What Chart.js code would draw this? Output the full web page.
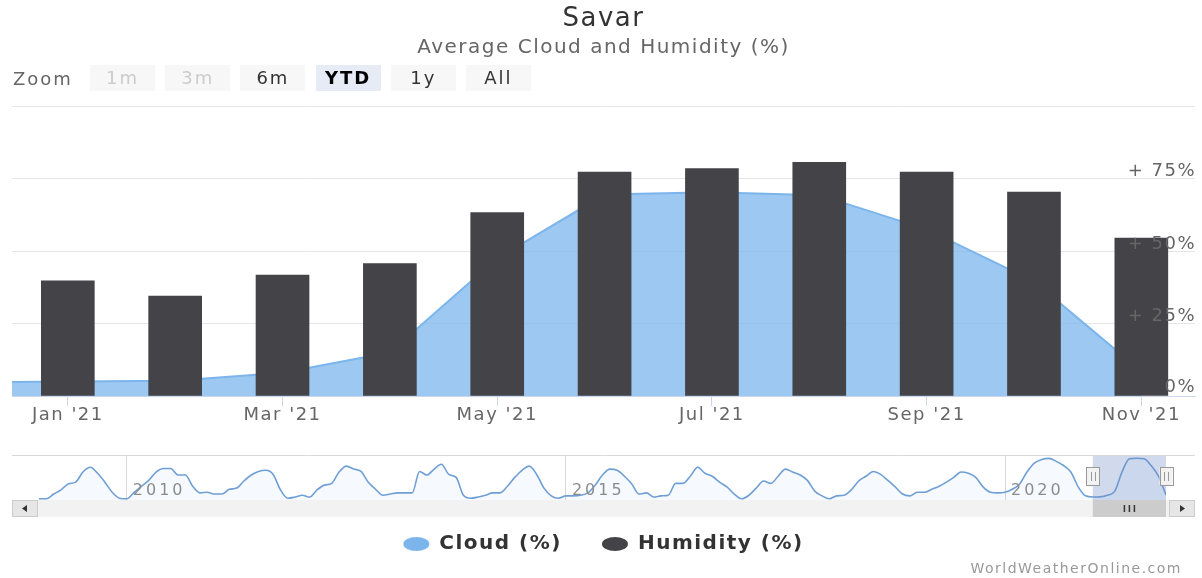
<!DOCTYPE html>
<html>
<head>
<meta charset="utf-8">
<title>Savar - Average Cloud and Humidity (%)</title>
<script src="https://cdn.jsdelivr.net/npm/chart.js@4.4.0/dist/chart.umd.min.js"></script>
<style>
  html, body { margin: 0; padding: 0; background: #fff; overflow: hidden; }
  body { width: 1202px; height: 578px; position: relative; font-family: "DejaVu Sans", sans-serif; }
  #main-chart { position: absolute; left: 0; top: 0; }
  #nav-chart { position: absolute; left: 0; top: 440px; }
  #zoom-bar { position: absolute; left: 13px; top: 65px; height: 26px; display: flex; align-items: center; font-size: 18px; letter-spacing: 2px; }
  #zoom-bar .label { color: #666; width: 77px; }
  #zoom-bar .btn { width: 65px; height: 26px; margin-right: 10.2px; background: #f7f7f7; color: #333; text-align: center; line-height: 26px; }
  #zoom-bar .btn.disabled { color: #ccc; }
  #zoom-bar .btn.active { background: #e6ebf5; color: #000; font-weight: bold; }
</style>
</head>
<body>
<canvas id="main-chart" width="1202" height="578"></canvas>
<canvas id="nav-chart" width="1202" height="90"></canvas>
<div id="zoom-bar">
  <span class="label">Zoom</span>
  <span class="btn disabled">1m</span>
  <span class="btn disabled">3m</span>
  <span class="btn">6m</span>
  <span class="btn active">YTD</span>
  <span class="btn">1y</span>
  <span class="btn">All</span>
</div>
<script>
// Monatswerte 2021 (x = 0 ist Jan '21)
const humidity = [39.7, 34.5, 41.7, 45.7, 63.3, 77.3, 78.5, 80.6, 77.3, 70.4, 54.5];
const cloud = [5.0, 5.3, 8.0, 15.0, 47.5, 69.5, 70.3, 69.3, 57.5, 39.6, 8.5];
const cloudDec2020 = 4.6; // Vormonat, nur am linken Rand sichtbar

const xTickIndex = [0, 2, 4, 6, 8, 10];
const xTickLabels = ["Jan '21", "Mar '21", "May '21", "Jul '21", "Sep '21", "Nov '21"];
const yTicks = [0, 25, 50, 75];

// Navigator: Wolken (%) monatlich, Jan 2009 .. Dez 2020, danach 2021
const navCloudHistory = [
  2, 2, 10, 17, 27, 30, 47, 55, 45, 30, 13, 3,      // 2009
  2, 13, 23, 33, 47, 53, 53, 42, 42, 23, 12, 13,    // 2010
  10, 10, 18, 20, 32, 42, 48, 50, 43, 17, 3, 5,     // 2011
  8, 5, 17, 25, 28, 47, 57, 52, 48, 30, 18, 8,      // 2012
  10, 12, 12, 12, 48, 42, 52, 60, 43, 38, 8, 3,     // 2013
  5, 8, 12, 12, 23, 38, 50, 57, 43, 20, 7, 3,       // 2014
  7, 7, 8, 12, 25, 42, 52, 50, 40, 27, 10, 12,      // 2015
  5, 7, 8, 28, 28, 40, 55, 45, 40, 30, 22, 10,      // 2016
  2, 8, 20, 32, 28, 40, 52, 47, 42, 33, 15, 7,      // 2017
  2, 7, 8, 17, 32, 40, 48, 43, 33, 22, 10, 7,       // 2018
  13, 13, 18, 23, 30, 38, 47, 45, 38, 22, 13, 12,   // 2019
  13, 18, 27, 47, 62, 68, 70, 65, 58, 47, 22, 7     // 2020
];
const navYearTicks = [12, 72, 132];
const navYearLabels = ['2010', '2015', '2020'];
const navRange = [144, 154]; // YTD: Jan .. Nov 2021

const fontFamily = '"DejaVu Sans", sans-serif';
const seriesColors = ['#7cb5ec', '#434348'];

function spacing(px) {
  return {
    id: 'letterSpacing',
    beforeUpdate(chart) { chart.ctx.letterSpacing = px + 'px'; },
    beforeDraw(chart) { chart.ctx.letterSpacing = px + 'px'; }
  };
}

// y-Beschriftung innen rechts, über den Säulen
const yLabels = {
  id: 'yLabels',
  afterDatasetsDraw(chart) {
    const { ctx, chartArea, scales: { y } } = chart;
    ctx.save();
    ctx.font = '18px ' + fontFamily;
    ctx.fillStyle = '#666';
    ctx.textAlign = 'right';
    ctx.textBaseline = 'middle';
    yTicks.forEach(v => {
      const label = v === 0 ? '0%' : '+ ' + v + '%';
      ctx.fillText(label, chartArea.right + 1, y.getPixelForValue(v) - (v === 0 ? 9 : 7));
    });
    ctx.restore();
  }
};

const credits = {
  id: 'credits',
  afterDraw(chart) {
    const ctx = chart.ctx;
    ctx.save();
    ctx.font = '14px ' + fontFamily;
    ctx.fillStyle = '#999';
    ctx.textAlign = 'right';
    ctx.textBaseline = 'middle';
    ctx.fillText('WorldWeatherOnline.com', 1182, 569);
    ctx.restore();
  }
};

const cloudPoints = [{ x: -1, y: cloudDec2020 }].concat(cloud.map((v, i) => ({ x: i, y: v })));
const humidityPoints = humidity.map((v, i) => ({ x: i, y: v }));

new Chart(document.getElementById('main-chart'), {
  type: 'bar',
  data: {
    datasets: [
      {
        type: 'line',
        label: 'Cloud (%)',
        data: cloudPoints,
        borderColor: seriesColors[0],
        backgroundColor: 'rgba(124, 181, 236, 0.75)',
        borderWidth: 2,
        fill: 'origin',
        pointRadius: 0,
        tension: 0,
        order: 2
      },
      {
        type: 'bar',
        label: 'Humidity (%)',
        data: humidityPoints,
        backgroundColor: seriesColors[1],
        barThickness: 53,
        order: 1
      }
    ]
  },
  options: {
    responsive: false,
    animation: false,
    devicePixelRatio: 1,
    events: [],
    layout: { padding: { left: 12, right: 7, top: 0, bottom: 14 } },
    scales: {
      x: {
        type: 'linear',
        min: -0.52,
        max: 10.5,
        offset: false,
        afterBuildTicks: (scale) => { scale.ticks = xTickIndex.map(v => ({ value: v })); },
        afterFit: (scale) => { scale.height = 98; },
        ticks: {
          callback: (value, index) => xTickLabels[index],
          color: '#666',
          font: { family: fontFamily, size: 18 },
          padding: -1,
          maxRotation: 0,
          autoSkip: false
        },
        grid: { offset: false, drawOnChartArea: false, drawTicks: true, tickLength: 10, color: '#ccd6eb' },
        border: { color: '#ccd6eb' }
      },
      y: {
        position: 'right',
        min: 0,
        max: 100,
        ticks: { display: false, stepSize: 25 },
        grid: { color: '#e6e6e6', drawTicks: false },
        border: { display: false }
      }
    },
    plugins: {
      title: {
        display: true,
        text: 'Savar',
        color: '#333',
        font: { family: fontFamily, size: 26, weight: 'normal' },
        padding: { top: 4, bottom: 0 }
      },
      subtitle: {
        display: true,
        text: 'Average Cloud and Humidity (%)',
        color: '#666',
        font: { family: fontFamily, size: 20 },
        padding: { top: 1, bottom: 46 }
      },
      legend: {
        position: 'bottom',
        labels: {
          usePointStyle: true,
          pointStyle: 'circle',
          boxHeight: 10,
          pointStyleWidth: 26,
          padding: 40,
          color: '#333',
          font: { family: fontFamily, size: 20, weight: 'bold' },
          generateLabels: (chart) => chart.data.datasets.map((ds, i) => ({
            text: ds.label,
            fillStyle: seriesColors[i],
            strokeStyle: seriesColors[i],
            lineWidth: 0,
            pointStyle: 'circle',
            hidden: false,
            datasetIndex: i,
            fontColor: '#333'
          }))
        }
      },
      tooltip: { enabled: false }
    }
  },
  plugins: [spacing(1.5), yLabels, credits]
});

// Navigator mit Auswahlbereich und Scrollbar
const navDecor = {
  id: 'navDecor',
  afterDraw(chart) {
    const { ctx, chartArea: a, scales: { x } } = chart;
    ctx.save();

    // obere Linie
    ctx.strokeStyle = '#d8d8d8';
    ctx.lineWidth = 1;
    ctx.beginPath();
    ctx.moveTo(12, a.top - 0.5);
    ctx.lineTo(1195, a.top - 0.5);
    ctx.stroke();

    // Jahreszahlen
    ctx.font = '16px ' + fontFamily;
    ctx.fillStyle = '#8c8c8c';
    ctx.textAlign = 'left';
    ctx.textBaseline = 'middle';
    navYearTicks.forEach((t, i) => {
      ctx.fillText(navYearLabels[i], x.getPixelForValue(t) + 6, a.bottom - 9);
    });

    // Maske
    const x1 = x.getPixelForValue(navRange[0]);
    const x2 = x.getPixelForValue(navRange[1]);
    ctx.fillStyle = 'rgba(102, 133, 194, 0.3)';
    ctx.fillRect(x1, a.top, x2 - x1, a.bottom - a.top);

    // Scrollbar
    const sy = a.bottom, sh = 17;
    ctx.fillStyle = '#f2f2f2';
    ctx.fillRect(12, sy, 1183, sh);
    ctx.fillStyle = '#cccccc';
    ctx.fillRect(x1, sy, x2 - x1, sh);
    ctx.strokeStyle = '#333';
    ctx.lineWidth = 1.5;
    const gx = (x1 + x2) / 2;
    [-5, 0, 5].forEach(d => {
      ctx.beginPath();
      ctx.moveTo(gx + d, sy + 5);
      ctx.lineTo(gx + d, sy + 12);
      ctx.stroke();
    });

    // Pfeil-Buttons
    [[12, -1], [1169, 1]].forEach(([bx, dir]) => {
      ctx.fillStyle = '#e6e6e6';
      ctx.strokeStyle = '#cccccc';
      ctx.lineWidth = 1;
      ctx.fillRect(bx, sy, 26, sh);
      ctx.strokeRect(bx + 0.5, sy + 0.5, 25, sh - 1);
      const cx = bx + 13, cy = sy + sh / 2;
      ctx.fillStyle = '#333';
      ctx.beginPath();
      ctx.moveTo(cx + 3 * dir, cy);
      ctx.lineTo(cx - 2 * dir, cy - 3.5);
      ctx.lineTo(cx - 2 * dir, cy + 3.5);
      ctx.closePath();
      ctx.fill();
    });

    // Griffe
    [x1, x2].forEach(hx => {
      const hy = a.top + 11, hw = 13, hh = 18;
      ctx.fillStyle = '#f2f2f2';
      ctx.strokeStyle = '#999';
      ctx.lineWidth = 1;
      ctx.fillRect(hx - hw / 2, hy, hw, hh);
      ctx.strokeRect(Math.round(hx - hw / 2) + 0.5, hy + 0.5, hw, hh);
      ctx.beginPath();
      ctx.moveTo(Math.round(hx) - 1.5, hy + 5);
      ctx.lineTo(Math.round(hx) - 1.5, hy + hh - 4);
      ctx.moveTo(Math.round(hx) + 2.5, hy + 5);
      ctx.lineTo(Math.round(hx) + 2.5, hy + hh - 4);
      ctx.stroke();
    });

    ctx.restore();
  }
};

const navPoints = navCloudHistory.concat(cloud).map((v, i) => ({ x: i, y: v }));

new Chart(document.getElementById('nav-chart'), {
  type: 'line',
  data: {
    datasets: [{
      data: navPoints,
      borderColor: '#6f9fd4',
      borderWidth: 1.6,
      backgroundColor: 'rgba(124, 181, 236, 0.07)',
      fill: 'origin',
      pointRadius: 0,
      cubicInterpolationMode: 'monotone'
    }]
  },
  options: {
    responsive: false,
    animation: false,
    devicePixelRatio: 1,
    events: [],
    layout: { padding: { left: 39, right: 36, top: 16, bottom: 30 } },
    scales: {
      x: {
        type: 'linear',
        min: 0,
        max: 154,
        afterBuildTicks: (scale) => { scale.ticks = navYearTicks.map(v => ({ value: v })); },
        ticks: { display: false },
        grid: { color: '#d8d8d8', drawTicks: false },
        border: { display: false }
      },
      y: { display: false, min: 0, max: 74 }
    },
    plugins: {
      legend: { display: false },
      tooltip: { enabled: false }
    }
  },
  plugins: [spacing(3), navDecor]
});
</script>
</body>
</html>
